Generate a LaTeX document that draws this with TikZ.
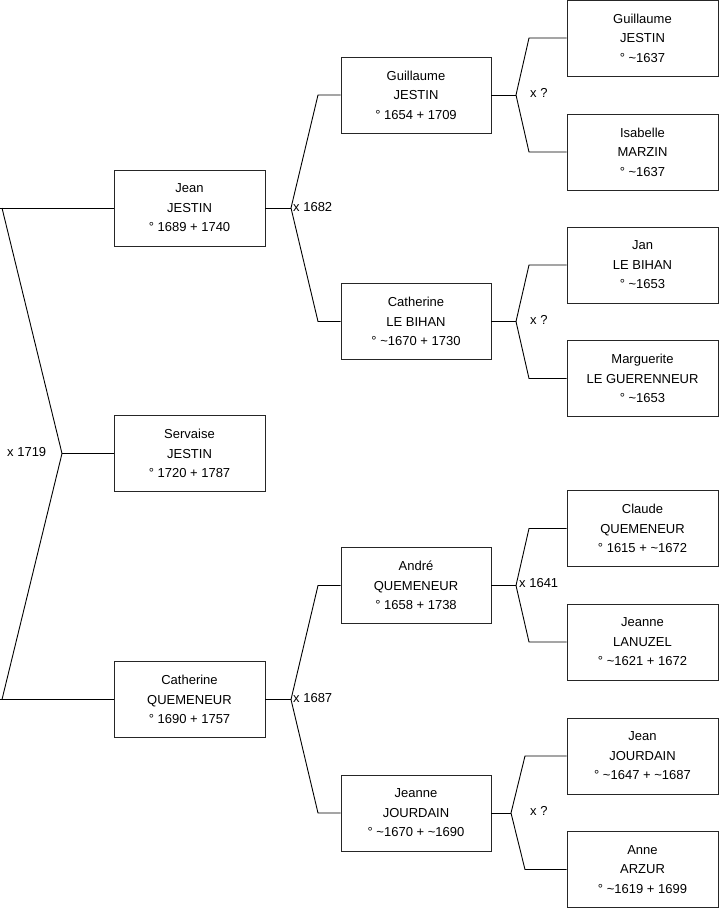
\documentclass[tikz,border=0pt]{standalone}
\usepackage{fontspec}
\setmainfont{Liberation Sans}
\begin{document}
\begin{tikzpicture}[x=1pt,y=-1pt,
  person/.style={draw=black!85,line width=0.9pt,minimum width=151pt,minimum height=76pt,inner sep=0pt,align=center,font=\fontsize{13}{19.5}\selectfont},
  link/.style={draw=black,line width=0.9pt},
  lbl/.style={anchor=west,inner sep=0pt,font=\fontsize{13}{15}\selectfont}]
\useasboundingbox (0,0) rectangle (719,908);
% generation 1
\node[person] (jean) at (189.5,208) {Jean\\JESTIN\\° 1689 + 1740};
\node[person] (servaise) at (189.5,453.5) {Servaise\\JESTIN\\° 1720 + 1787};
\node[person] (catq) at (189.5,699.5) {Catherine\\QUEMENEUR\\° 1690 + 1757};
% generation 2
\node[person,minimum width=150pt] (guil) at (416,95) {Guillaume\\JESTIN\\° 1654 + 1709};
\node[person,minimum width=150pt] (catlb) at (416,321.5) {Catherine\\LE BIHAN\\° \textasciitilde1670 + 1730};
\node[person,minimum width=150pt] (andre) at (416,585.5) {André\\QUEMENEUR\\° 1658 + 1738};
\node[person,minimum width=150pt] (jeannej) at (416,813) {Jeanne\\JOURDAIN\\° \textasciitilde1670 + \textasciitilde1690};
% generation 3
\node[person] (guil2) at (642.5,38) {Guillaume\\JESTIN\\° \textasciitilde1637};
\node[person] (isab) at (642.5,152) {Isabelle\\MARZIN\\° \textasciitilde1637};
\node[person] (jan) at (642.5,265) {Jan\\LE BIHAN\\° \textasciitilde1653};
\node[person] (marg) at (642.5,378.5) {Marguerite\\LE GUERENNEUR\\° \textasciitilde1653};
\node[person] (claude) at (642.5,528.5) {Claude\\QUEMENEUR\\° 1615 + \textasciitilde1672};
\node[person] (jeannel) at (642.5,642) {Jeanne\\LANUZEL\\° \textasciitilde1621 + 1672};
\node[person] (jeanj) at (642.5,756) {Jean\\JOURDAIN\\° \textasciitilde1647 + \textasciitilde1687};
\node[person] (anne) at (642.5,869.5) {Anne\\ARZUR\\° \textasciitilde1619 + 1699};
% root couple
\coordinate (r1) at (2,208);
\coordinate (r2) at (2,699.5);
\coordinate (ra) at (62,453.5);
\draw[link] (jean.west) -- (0,208) coordinate (r1a);
\draw[link] (catq.west) -- (0,699.5) coordinate (r2a);
\draw[link] (r1) -- (ra) -- (r2);
\draw[link] (ra) -- (servaise.west);
\node[lbl] (m0) at (7,452) {x 1719};
% jean's parents
\coordinate (a1) at (291,208);
\coordinate (a1u) at (318,95);
\coordinate (a1d) at (318,321.5);
\draw[link] (jean.east) -- (a1);
\draw[link] (guil.west) -- (a1u) -- (a1) -- (a1d) -- (catlb.west);
\node[lbl] (m1) at (293,207) {x 1682};
% catherine Q's parents
\coordinate (a2) at (291,699.5);
\coordinate (a2u) at (318,585.5);
\coordinate (a2d) at (318,813);
\draw[link] (catq.east) -- (a2);
\draw[link] (andre.west) -- (a2u) -- (a2) -- (a2d) -- (jeannej.west);
\node[lbl] (m2) at (293,698) {x 1687};
% guillaume's parents
\coordinate (b1) at (516,95);
\draw[link] (guil.east) -- (b1);
\draw[link] (guil2.west) -- (529,38) -- (b1) -- (529,152) -- (isab.west);
\node[lbl] (m3) at (530,93) {x ?};
% catherine LB's parents
\coordinate (b2) at (516,321.5);
\draw[link] (catlb.east) -- (b2);
\draw[link] (jan.west) -- (529,265) -- (b2) -- (529,378.5) -- (marg.west);
\node[lbl] (m4) at (530,320) {x ?};
% andre's parents
\coordinate (b3) at (516,585.5);
\draw[link] (andre.east) -- (b3);
\draw[link] (claude.west) -- (529,528.5) -- (b3) -- (529,642) -- (jeannel.west);
\node[lbl] (m5) at (519,583) {x 1641};
% jeanne J's parents
\coordinate (b4) at (511,813);
\draw[link] (jeannej.east) -- (b4);
\draw[link] (jeanj.west) -- (525,756) -- (b4) -- (525,869.5) -- (anne.west);
\node[lbl] (m6) at (530,811) {x ?};
\end{tikzpicture}
\end{document}
